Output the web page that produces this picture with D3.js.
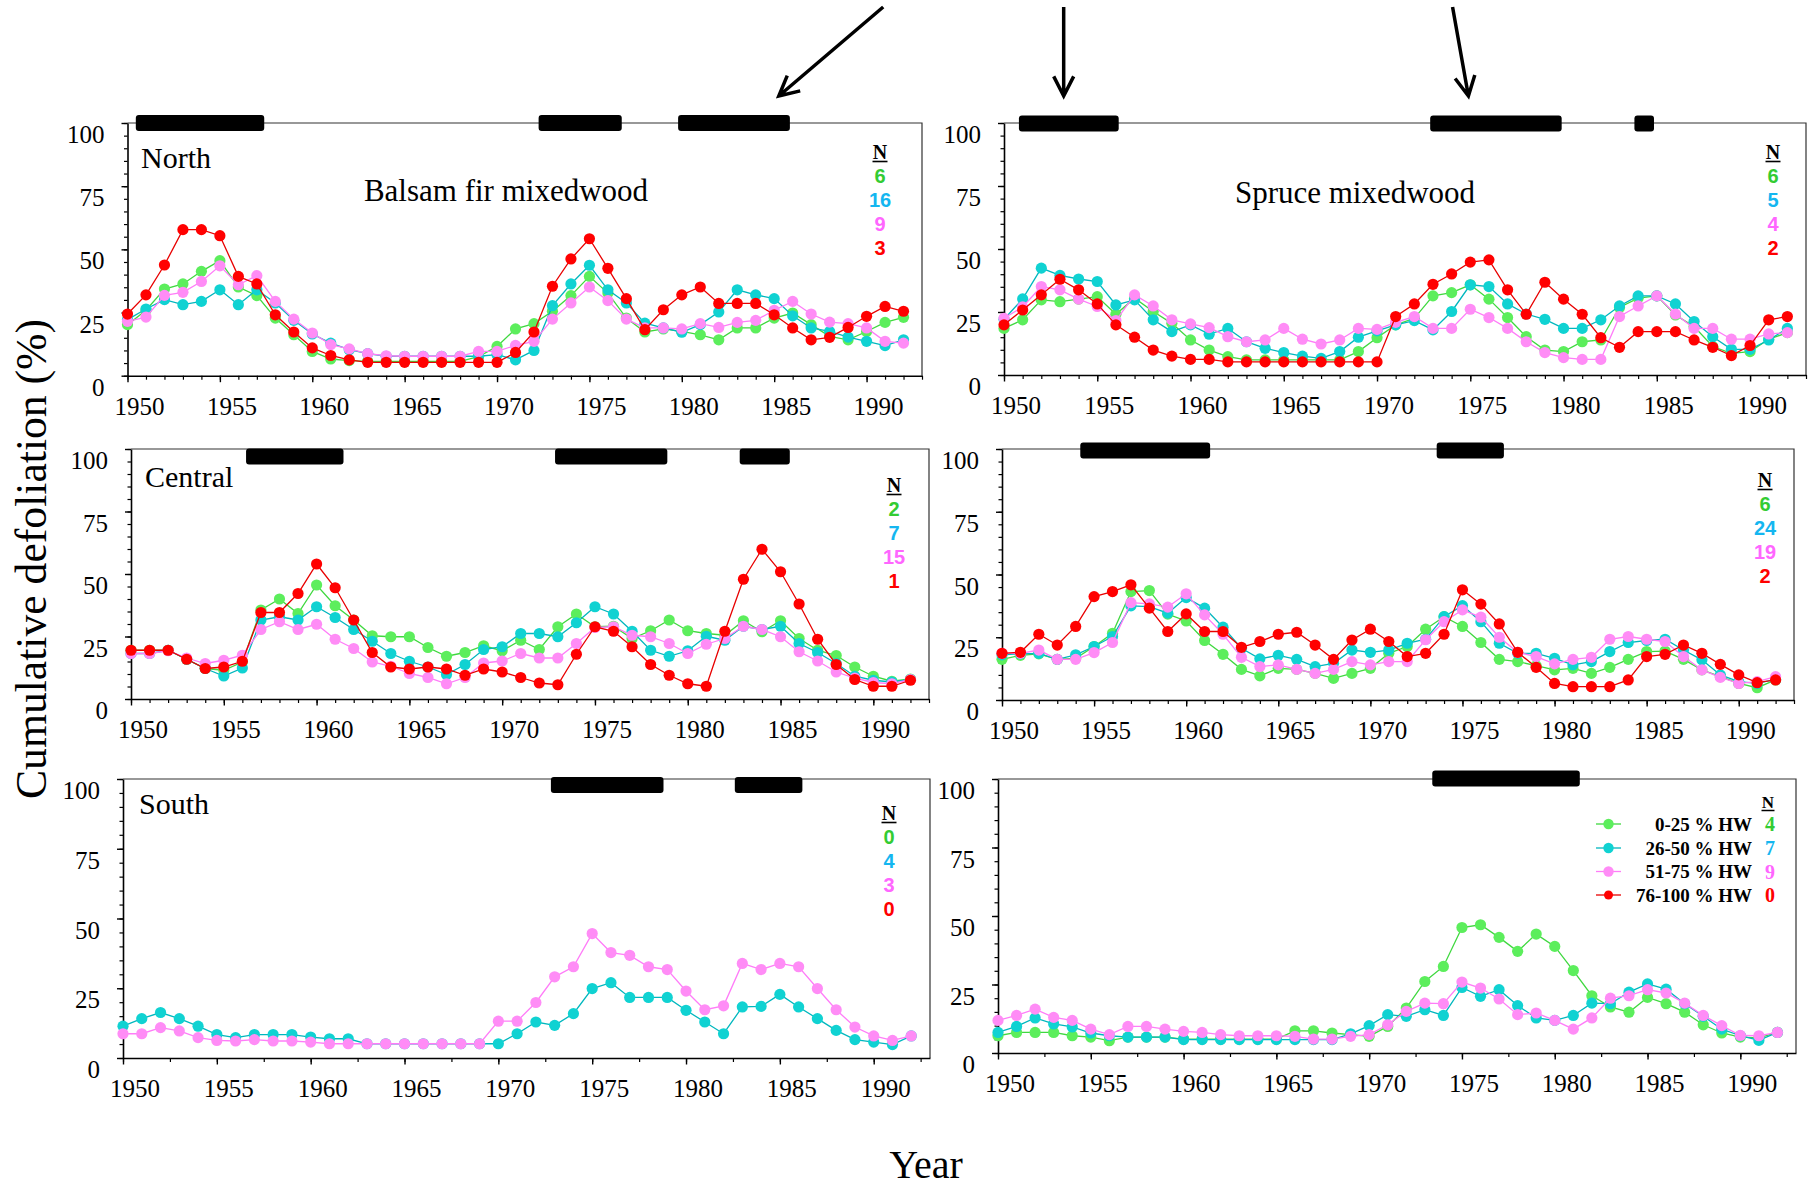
<!DOCTYPE html>
<html>
<head>
<meta charset="utf-8">
<script src="https://cdn.jsdelivr.net/npm/d3@7"></script>
<style>
  body { margin: 0; background: #fff; }
  svg text { font-family: "Liberation Serif", "Times New Roman", serif; }
</style>
</head>
<body>
<script>
// ---- Data -------------------------------------------------------------
const years = [1950,1951,1952,1953,1954,1955,1956,1957,1958,1959,
               1960,1961,1962,1963,1964,1965,1966,1967,1968,1969,
               1970,1971,1972,1973,1974,1975,1976,1977,1978,1979,
               1980,1981,1982,1983,1984,1985,1986,1987,1988,1989,
               1990,1991,1992];

const classLabels = ["0-25 % HW", "26-50 % HW", "51-75 % HW", "76-100 % HW"];
const xTickLabels = [1950, 1955, 1960, 1965, 1970, 1975, 1980, 1985, 1990];
const yTickLabels = [0, 25, 50, 75, 100];

// Balsam fir mixedwood, North
const northHw0 = [20.2,25.9,34.3,36.3,41.3,45.5,35.1,31.7,22.8,16.2,9.6,6.6,6.0,5.7,5.7,5.7,5.7,5.7,5.7,7.5,11.6,18.5,20.6,25.5,31.7,39.3,32.7,22.8,17.3,18.5,17.5,16.2,14.2,18.9,18.9,22.8,24.8,20.2,15.6,14.2,17.5,21.1,23.1];
const northHw1 = [22.2,26.4,30.1,28.1,29.4,34.0,28.1,34.0,28.8,21.9,16.5,12.9,10.3,8.7,7.7,7.7,7.7,7.7,7.7,7.7,8.3,6.3,10.0,27.7,36.3,43.7,34.0,28.8,20.8,18.9,17.2,20.2,25.2,34.0,32.0,30.5,23.7,18.9,17.5,15.3,13.6,11.9,14.2];
const northHw2 = [21.5,23.2,31.8,33.0,37.3,43.5,36.0,39.6,29.4,22.4,16.9,12.3,10.6,8.7,7.9,7.7,7.7,7.7,7.7,9.6,9.6,12.0,13.6,22.4,28.8,35.1,29.7,22.4,18.9,18.9,18.5,20.6,19.1,21.1,21.9,25.9,29.4,24.4,21.2,20.6,18.9,13.6,12.9];
const northHw3 = [24.4,32.0,43.8,57.8,57.8,55.4,39.3,36.3,24.1,17.3,11.0,8.0,6.3,5.3,5.3,5.3,5.3,5.3,5.3,5.3,5.3,9.2,17.3,35.4,46.2,54.2,42.5,30.5,18.2,26.1,32.0,35.1,28.6,28.6,28.6,24.1,18.9,14.2,15.2,19.1,23.5,27.4,25.5];
const northN = [6, 16, 9, 3];
const northOutbreaks = [[1950.45, 1957.4], [1972.25, 1976.75], [1979.8, 1985.85]];

// Spruce mixedwood, North
const spruceNorthHw0 = [18.5,21.9,29.8,29.1,30.1,31.1,24.1,30.5,25.2,20.5,13.9,9.9,7.3,6.0,6.0,6.0,6.0,6.0,6.0,9.3,14.8,19.9,22.5,31.4,32.7,35.8,30.1,22.8,15.2,9.9,9.3,13.2,13.9,26.8,30.5,31.4,23.8,19.2,11.3,8.6,9.3,14.2,16.8];
const spruceNorthHw1 = [22.1,30.2,42.4,39.5,38.1,37.1,27.8,29.8,21.9,17.2,19.9,16.2,18.5,13.2,10.6,8.9,7.5,6.6,9.3,15.0,17.5,19.9,21.6,17.9,25.2,35.8,35.1,28.2,24.2,22.1,18.5,18.5,21.9,27.4,31.4,31.4,28.2,21.2,15.2,10.2,10.2,13.9,18.5];
const spruceNorthHw2 = [22.5,27.0,35.1,33.8,30.1,27.2,21.6,31.8,27.4,21.9,20.3,18.8,15.2,13.2,13.9,18.5,14.2,12.3,13.9,18.5,18.1,20.9,23.2,18.5,18.5,26.1,22.8,18.5,13.2,8.9,6.9,6.2,6.2,23.2,27.4,31.4,24.2,18.5,18.5,14.2,14.2,16.3,16.8];
const spruceNorthHw3 = [19.9,25.8,31.8,38.0,33.8,28.2,19.9,15.0,9.9,7.5,6.2,6.2,5.2,5.2,5.2,5.2,5.2,5.2,5.2,5.2,5.2,23.2,28.2,36.0,40.1,44.8,45.7,33.8,24.1,36.8,30.1,24.1,14.8,11.0,17.2,17.2,17.2,13.9,11.0,7.7,11.7,21.9,23.2];
const spruceNorthN = [6, 5, 4, 2];
const spruceNorthOutbreaks = [[1950.8, 1956.15], [1972.85, 1979.9], [1983.8, 1984.85]];

// Balsam fir mixedwood, Central
const centralHw0 = [19.5,19.5,19.5,15.9,12.2,11.5,14.8,35.6,40.0,34.2,45.6,37.3,31.6,25.3,24.9,24.9,20.6,17.1,18.6,21.3,19.3,23.5,19.8,28.9,34.0,28.9,29.1,24.2,27.3,31.6,27.3,26.2,25.5,31.3,26.9,31.3,24.2,19.5,17.4,12.8,9.1,7.1,8.0];
const centralHw1 = [18.2,18.2,19.5,15.9,12.2,9.2,12.4,31.6,32.9,31.6,36.9,32.6,27.8,23.1,18.2,15.1,12.8,9.8,13.8,19.8,20.9,26.2,26.2,24.9,30.5,36.9,34.0,27.1,19.5,17.1,19.3,25.1,23.5,29.1,27.8,29.1,22.2,18.6,14.2,9.1,7.5,6.8,7.8];
const centralHw2 = [18.2,18.2,19.3,16.4,14.2,15.5,17.5,27.8,30.9,27.8,29.9,23.9,20.2,14.8,13.1,10.2,8.6,6.1,8.6,14.4,15.2,18.2,16.4,16.4,22.2,28.6,28.9,25.5,24.9,22.2,18.2,21.9,24.2,29.1,27.8,24.9,18.9,15.2,10.8,8.4,6.6,6.1,7.8];
const centralHw3 = [19.5,19.5,19.5,15.9,12.2,12.8,15.1,34.6,34.6,42.2,54.0,44.5,31.6,18.6,12.8,12.0,12.8,12.0,9.5,12.0,10.8,8.6,6.4,5.7,17.9,28.9,27.1,20.9,13.8,9.5,6.1,5.1,27.1,47.9,59.9,50.9,38.0,23.9,13.8,7.8,5.1,5.1,7.5];
const centralN = [2, 7, 15, 1];
const centralOutbreaks = [[1956.2, 1961.45], [1972.85, 1978.9], [1982.8, 1985.5]];

// Spruce mixedwood, Central
const spruceCentralHw0 = [16.2,17.8,18.4,16.2,16.6,21.3,26.6,43.2,43.6,34.2,31.5,23.7,18.2,12.2,9.6,12.6,12.2,10.6,8.6,10.6,12.6,18.6,21.3,28.2,33.2,29.3,22.9,16.2,15.3,13.7,12.0,12.6,10.6,13.0,16.2,19.3,19.5,16.2,12.0,9.3,6.6,4.9,8.0];
const spruceCentralHw1 = [18.0,18.4,18.6,16.2,18.0,21.3,25.3,37.5,37.2,34.6,40.8,36.6,29.0,20.6,16.4,17.8,16.2,13.3,14.6,19.9,19.0,19.9,22.6,24.2,33.2,37.6,31.2,22.6,18.6,18.6,16.6,14.0,15.3,19.3,22.9,23.7,24.2,19.9,16.0,10.0,7.3,6.6,8.2];
const spruceCentralHw2 = [18.6,18.6,19.9,16.2,16.2,18.9,22.9,38.8,38.3,37.0,42.3,33.9,26.2,17.0,13.3,14.0,12.2,10.6,12.2,15.3,14.0,15.3,15.3,24.0,31.2,35.9,33.0,25.0,19.0,17.3,14.4,16.2,17.0,24.2,25.3,24.2,23.3,17.3,12.0,9.0,6.6,7.3,9.3];
const spruceCentralHw3 = [18.6,19.0,26.2,21.9,29.3,41.2,43.2,45.9,36.6,27.3,34.3,27.3,27.3,21.0,23.3,26.2,27.0,21.9,16.2,23.9,28.2,23.3,17.3,18.6,26.2,43.9,38.2,30.3,19.0,13.0,6.6,5.3,5.3,5.3,8.0,17.3,18.2,21.9,18.6,14.2,10.0,6.9,8.0];
const spruceCentralN = [6, 24, 19, 2];
const spruceCentralOutbreaks = [[1954.25, 1961.3], [1973.6, 1977.25]];

// Balsam fir mixedwood, South
const southHw1 = [11.4,14.1,16.3,14.1,11.4,8.4,7.3,8.4,8.4,8.4,7.5,6.9,6.9,5.1,5.1,5.1,5.1,5.1,5.1,5.1,5.1,8.7,12.9,11.7,15.9,24.9,27.0,21.7,21.7,21.7,17.1,12.9,8.7,18.3,18.5,22.8,18.3,14.1,9.9,6.6,5.7,4.8,7.9];
const southHw2 = [8.7,8.7,10.9,9.7,7.3,6.3,6.1,6.6,6.1,6.1,5.7,5.1,5.1,5.1,5.1,5.1,5.1,5.1,5.1,5.1,13.2,13.2,19.9,29.1,32.7,44.6,37.8,36.8,32.7,31.7,24.0,17.3,18.7,33.9,31.7,33.9,32.7,24.9,17.3,11.1,7.9,6.3,7.9];
const southN = [0, 4, 3, 0];
const southOutbreaks = [[1972.8, 1978.8], [1982.6, 1986.2]];

// Spruce mixedwood, South
const spruceSouthHw0 = [6.3,7.5,7.5,7.5,6.3,5.8,4.5,5.8,5.8,5.8,5.1,5.1,5.1,5.1,5.1,5.1,8.1,8.1,7.3,6.7,6.1,9.7,16.4,26.1,31.6,45.8,46.8,42.2,37.1,43.4,38.9,30.1,20.9,16.8,14.9,20.3,18.0,14.9,10.3,7.3,5.8,5.5,7.5];
const spruceSouthHw1 = [7.5,9.7,12.8,10.6,9.5,7.3,6.3,5.8,5.8,5.8,4.9,4.9,4.9,4.9,4.9,4.9,4.9,4.9,4.9,7.0,10.0,14.0,13.4,15.8,13.7,23.9,20.7,23.1,17.3,12.8,11.9,13.7,18.2,18.0,22.2,25.2,23.3,18.0,13.4,8.7,6.3,4.6,7.5];
const spruceSouthHw2 = [11.9,13.7,16.0,13.0,11.9,8.7,6.7,9.7,9.7,8.7,7.9,7.5,6.7,6.3,6.3,6.3,6.1,5.1,5.1,6.1,6.7,10.3,15.2,18.2,18.0,25.9,23.7,19.7,14.0,14.6,11.9,8.7,12.8,20.0,20.9,23.1,21.9,18.2,13.7,10.0,6.4,6.3,7.5];
const spruceSouthN = [4, 7, 9, 0];
const spruceSouthOutbreaks = [[1973.4, 1981.35]];

// ---- Styles -----------------------------------------------------------
const classStyle = [
  { marker: "#5cee5c", line: "#3fd83f", text: "#33cc33" },
  { marker: "#10d2d2", line: "#00b7be", text: "#14b6f0" },
  { marker: "#ff8cf6", line: "#ff7cf8", text: "#ff66ff" },
  { marker: "#ff0000", line: "#e80000", text: "#ff0000" }
];

// ---- Panel layout -----------------------------------------------------
const panels = [
  { box: { l: 127.5, r: 922, t: 123, b: 375.7 }, series: [northHw0, northHw1, northHw2, northHw3],
    counts: northN, outbreaks: northOutbreaks, barDy: 0, xMinor: 1,
    region: { text: "North", x: 141, y: 168 }, title: { text: "Balsam fir mixedwood", x: 506, y: 201 },
    nKey: { x: 880, y: 152 } },
  { box: { l: 1004, r: 1806, t: 123, b: 375 }, series: [spruceNorthHw0, spruceNorthHw1, spruceNorthHw2, spruceNorthHw3],
    counts: spruceNorthN, outbreaks: spruceNorthOutbreaks, barDy: 0.5, xMinor: 1,
    title: { text: "Spruce mixedwood", x: 1355, y: 203 },
    nKey: { x: 1773, y: 152 } },
  { box: { l: 131, r: 929, t: 449, b: 699 }, series: [centralHw0, centralHw1, centralHw2, centralHw3],
    counts: centralN, outbreaks: centralOutbreaks, barDy: 7.5, xMinor: 1,
    region: { text: "Central", x: 145, y: 487 },
    nKey: { x: 894, y: 485 } },
  { box: { l: 1002, r: 1794, t: 449, b: 700 }, series: [spruceCentralHw0, spruceCentralHw1, spruceCentralHw2, spruceCentralHw3],
    counts: spruceCentralN, outbreaks: spruceCentralOutbreaks, barDy: 1.5, xMinor: 1,
    nKey: { x: 1765, y: 480 } },
  { box: { l: 123, r: 930, t: 779, b: 1058 }, series: [null, southHw1, southHw2, null],
    counts: southN, outbreaks: southOutbreaks, barDy: 6, xMinor: 2.5,
    region: { text: "South", x: 139, y: 814 },
    nKey: { x: 889, y: 813 } },
  { box: { l: 998, r: 1796, t: 779, b: 1053 }, series: [spruceSouthHw0, spruceSouthHw1, spruceSouthHw2, null],
    counts: spruceSouthN, outbreaks: spruceSouthOutbreaks, barDy: -0.5, xMinor: 2.5,
    legend: { lineX: 1596, lineW: 25, labelX: 1752, countX: 1770, y0: 824, dy: 24, nY: 802 } }
];

// Arrows point at outbreak periods: panel index, tail/tip years
const arrows = [
  { panel: 0, tailYear: 1990.9, tipYear: 1985.25 },
  { panel: 1, tailYear: 1953.2, tipYear: 1953.2 },
  { panel: 1, tailYear: 1974.05, tipYear: 1974.9 }
];

// ---- Drawing ----------------------------------------------------------
const W = 1816, H = 1189;
const svg = d3.select("body").append("svg")
  .attr("width", W).attr("height", H)
  .attr("viewBox", `0 0 ${W} ${H}`);

svg.append("rect").attr("width", W).attr("height", H).attr("fill", "#fff");

panels.forEach(p => {
  const { l, r, t, b } = p.box;
  const x = d3.scaleLinear().domain([1950, 1993]).range([l, r]);
  const y = d3.scaleLinear().domain([0, 100]).range([b, t]);
  p.x = x; p.y = y;
  const g = svg.append("g");

  // frame: thin top and right edges
  g.append("path")
    .attr("d", `M${l},${t}H${r}V${b}`)
    .attr("fill", "none").attr("stroke", "#333").attr("stroke-width", 1.2);

  // y axis: minor ticks every 5 %, major every 25 %
  g.append("g").attr("transform", `translate(${l},0)`)
    .call(d3.axisLeft(y).tickValues(d3.range(0, 101, 5)).tickSize(3.5).tickFormat(""))
    .call(s => s.select(".domain").remove())
    .call(s => s.selectAll("line").attr("stroke", "#000").attr("stroke-width", 1.2));
  g.append("g").attr("transform", `translate(${l},0)`)
    .call(d3.axisLeft(y).tickValues(yTickLabels).tickSize(6).tickSizeOuter(0).tickFormat(""))
    .call(s => s.select(".domain").attr("stroke", "#000").attr("stroke-width", 1.6))
    .call(s => s.selectAll("line").attr("stroke", "#000").attr("stroke-width", 1.4));
  g.selectAll(".ylab").data(yTickLabels).join("text")
    .attr("x", l - 23).attr("y", d => y(d) + 20)
    .attr("text-anchor", "end").attr("font-size", 25).attr("fill", "#000")
    .text(d => d);

  // x axis: minor and major year ticks
  const minorVals = d3.range(1950, 1993.01, p.xMinor);
  g.append("g").attr("transform", `translate(0,${b})`)
    .call(d3.axisBottom(x).tickValues(minorVals).tickSize(4).tickFormat(""))
    .call(s => s.select(".domain").remove())
    .call(s => s.selectAll("line").attr("stroke", "#000").attr("stroke-width", 1.2));
  g.append("g").attr("transform", `translate(0,${b})`)
    .call(d3.axisBottom(x).tickValues(xTickLabels).tickSize(6.5).tickSizeOuter(0).tickFormat(""))
    .call(s => s.select(".domain").attr("stroke", "#000").attr("stroke-width", 1.6))
    .call(s => s.selectAll("line").attr("stroke", "#000").attr("stroke-width", 1.4));
  g.selectAll(".xlab").data(xTickLabels).join("text")
    .attr("x", d => x(d) + 12).attr("y", b + 39)
    .attr("text-anchor", "middle").attr("font-size", 25).attr("fill", "#000")
    .text(d => d);

  // outbreak periods on the top edge
  g.selectAll(".bar").data(p.outbreaks).join("rect")
    .attr("x", d => x(d[0])).attr("width", d => x(d[1]) - x(d[0]))
    .attr("y", t + p.barDy - 8).attr("height", 16)
    .attr("rx", 3).attr("fill", "#000");

  // series
  const line = d3.line()
    .x((d, i) => x(years[i]))
    .y(d => y(d));
  p.series.forEach((vals, k) => {
    if (!vals) return;
    const st = classStyle[k];
    g.append("path").datum(vals)
      .attr("d", line)
      .attr("fill", "none").attr("stroke", st.line).attr("stroke-width", 1.3);
    g.selectAll(null).data(vals).join("circle")
      .attr("cx", (d, i) => x(years[i])).attr("cy", d => y(d))
      .attr("r", 5.6).attr("fill", st.marker);
  });

  // region and forest-type labels
  if (p.region) {
    g.append("text").attr("x", p.region.x).attr("y", p.region.y)
      .attr("font-size", 30).attr("fill", "#000").text(p.region.text);
  }
  if (p.title) {
    g.append("text").attr("x", p.title.x).attr("y", p.title.y)
      .attr("text-anchor", "middle").attr("font-size", 31).attr("fill", "#000").text(p.title.text);
  }

  // sample sizes
  if (p.nKey) {
    const { x: nx, y: ny } = p.nKey;
    g.append("text").attr("x", nx).attr("y", ny).attr("dy", "0.35em")
      .attr("text-anchor", "middle").attr("font-size", 20).attr("font-weight", "bold")
      .attr("fill", "#000").text("N");
    g.append("line").attr("x1", nx - 7.5).attr("x2", nx + 7.5)
      .attr("y1", ny + 9.5).attr("y2", ny + 9.5).attr("stroke", "#000").attr("stroke-width", 1.6);
    g.selectAll(".cnt").data(p.counts).join("text")
      .attr("x", nx).attr("y", (d, i) => ny + 24 * (i + 1)).attr("dy", "0.36em")
      .attr("text-anchor", "middle").attr("font-size", 20).attr("font-weight", "bold")
      .style("font-family", "'Liberation Sans', Arial, sans-serif")
      .attr("fill", (d, i) => classStyle[i].text).text(d => d);
  }

  // full legend with class names
  if (p.legend) {
    const lg = p.legend;
    const nx = lg.countX - 2;
    g.append("text").attr("x", nx).attr("y", lg.nY).attr("dy", "0.35em")
      .attr("text-anchor", "middle").attr("font-size", 17).attr("font-weight", "bold")
      .attr("fill", "#000").text("N");
    g.append("line").attr("x1", nx - 6.5).attr("x2", nx + 6.5)
      .attr("y1", lg.nY + 8.5).attr("y2", lg.nY + 8.5).attr("stroke", "#000").attr("stroke-width", 1.5);
    classLabels.forEach((lab, i) => {
      const ry = lg.y0 + lg.dy * i - (i > 1 ? 0.5 * (i - 1) : 0);
      g.append("line").attr("x1", lg.lineX).attr("x2", lg.lineX + lg.lineW)
        .attr("y1", ry).attr("y2", ry).attr("stroke", classStyle[i].line).attr("stroke-width", 1.3);
      g.append("circle").attr("cx", lg.lineX + lg.lineW / 2).attr("cy", ry)
        .attr("r", i === 3 ? 4.5 : 5.2).attr("fill", classStyle[i].marker);
      g.append("text").attr("x", lg.labelX).attr("y", ry).attr("dy", "0.35em")
        .attr("text-anchor", "end").attr("font-size", 19).attr("font-weight", "bold")
        .attr("fill", "#000").text(lab);
      g.append("text").attr("x", lg.countX).attr("y", ry).attr("dy", "0.35em")
        .attr("text-anchor", "middle").attr("font-size", 20).attr("font-weight", "bold")
        .attr("fill", classStyle[i].text).text(p.counts[i]);
    });
  }
});

// arrows above the panels
arrows.forEach(a => {
  const p = panels[a.panel];
  const tail = [p.x(a.tailYear), p.box.t - 116];
  const tip = [p.x(a.tipYear), p.box.t - 27];
  const ang = Math.atan2(tail[1] - tip[1], tail[0] - tip[0]);
  const len = 22, spread = 27 * Math.PI / 180;
  const arm1 = [tip[0] + len * Math.cos(ang + spread), tip[1] + len * Math.sin(ang + spread)];
  const arm2 = [tip[0] + len * Math.cos(ang - spread), tip[1] + len * Math.sin(ang - spread)];
  svg.append("path")
    .attr("d", `M${tail[0]},${tail[1]}L${tip[0]},${tip[1]}M${arm1[0]},${arm1[1]}L${tip[0]},${tip[1]}L${arm2[0]},${arm2[1]}`)
    .attr("fill", "none").attr("stroke", "#000").attr("stroke-width", 3.5)
    .attr("stroke-linecap", "butt").attr("stroke-linejoin", "miter");
});

// axis titles
svg.append("text")
  .attr("transform", "translate(46,559) rotate(-90)")
  .attr("text-anchor", "middle").attr("font-size", 44).attr("fill", "#000")
  .attr("textLength", 480).attr("lengthAdjust", "spacingAndGlyphs")
  .text("Cumulative defoliation (%)");
svg.append("text")
  .attr("x", 926).attr("y", 1178)
  .attr("text-anchor", "middle").attr("font-size", 40).attr("fill", "#000")
  .text("Year");
</script>
</body>
</html>
